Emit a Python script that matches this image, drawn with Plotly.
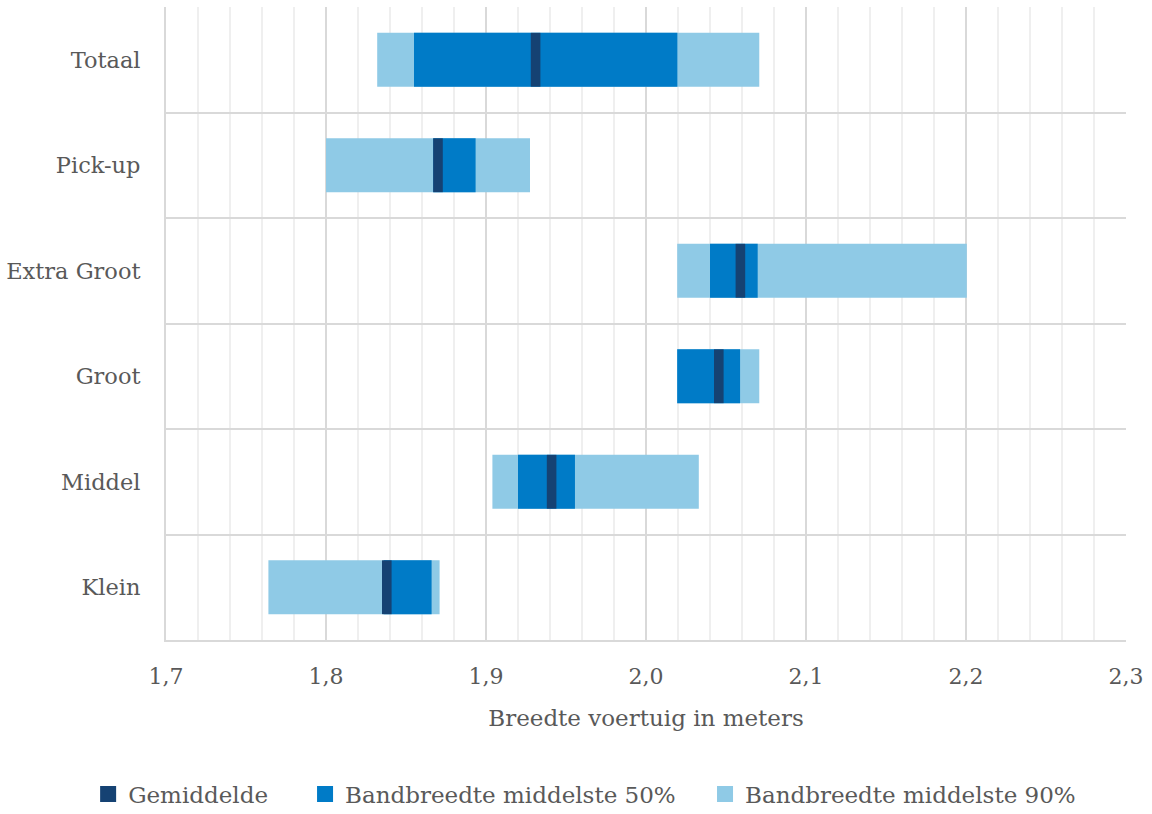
import plotly.graph_objects as go

categories = ["Klein", "Middel", "Groot", "Extra Groot", "Pick-up", "Totaal"]
p05 = [1.764, 1.904, 2.0195, 2.0195, 1.800, 1.832]
p95 = [1.871, 2.033, 2.0708, 2.2005, 1.9275, 2.0708]
p25 = [1.836, 1.920, 2.0195, 2.040, 1.867, 1.855]
p75 = [1.866, 1.9556, 2.0588, 2.0698, 1.8935, 2.0196]
mean = [1.838, 1.941, 2.0455, 2.059, 1.870, 1.931]

series_names = ["Gemiddelde", "Bandbreedte middelste 50%", "Bandbreedte middelste 90%"]

mean_mark = 0.006  # visual width of the mean marker

FONT = "DejaVu Serif"
TXT = "#595959"
C_LIGHT = "#8FCAE6"
C_MID = "#007BC7"
C_DARK = "#154273"

fig = go.Figure()
fig.add_trace(go.Bar(
    y=categories, x=[b - a for a, b in zip(p05, p95)], base=p05,
    orientation="h", marker=dict(color=C_LIGHT, line=dict(width=0)),
    width=0.51, name=series_names[2], showlegend=False,
))
fig.add_trace(go.Bar(
    y=categories, x=[b - a for a, b in zip(p25, p75)], base=p25,
    orientation="h", marker=dict(color=C_MID, line=dict(width=0)),
    width=0.51, name=series_names[1], showlegend=False,
))
fig.add_trace(go.Bar(
    y=categories, x=[mean_mark] * len(mean), base=[m - mean_mark / 2 for m in mean],
    orientation="h", marker=dict(color=C_DARK, line=dict(width=0)),
    width=0.51, name=series_names[0], showlegend=False,
))

# legend entries (one legend per entry so spacing can match)
legend_cols = [C_DARK, C_MID, C_LIGHT]
legend_ids = ["legend", "legend2", "legend3"]
for nm, col, lid in zip(series_names, legend_cols, legend_ids):
    fig.add_trace(go.Scatter(
        x=[None], y=[None], mode="markers", name=nm, legend=lid,
        marker=dict(symbol="square", size=17, color=col, line=dict(width=0)),
        showlegend=True, hoverinfo="skip",
    ))

leg_common = dict(
    orientation="h", yref="container", xref="container",
    yanchor="middle", y=0.0245, xanchor="left",
    font=dict(family=FONT, size=23, color=TXT), bgcolor="rgba(0,0,0,0)",
    itemwidth=30,
)

fig.update_layout(
    barmode="overlay",
    width=1152, height=814,
    margin=dict(l=166, r=26, t=7, b=174),
    paper_bgcolor="white", plot_bgcolor="white",
    separators=",.",
    font=dict(family=FONT, size=22, color=TXT),
    showlegend=True,
    legend=dict(x=0.0765, **leg_common),
    legend2=dict(x=0.2648, **leg_common),
    legend3=dict(x=0.6120, **leg_common),
    xaxis=dict(
        range=[1.7, 2.3], dtick=0.1, tick0=1.7, tickformat=".1f",
        showgrid=True, gridcolor="#D9D9D9", gridwidth=1.5,
        minor=dict(dtick=0.02, tick0=1.7, showgrid=True, gridcolor="#EFEFEF", gridwidth=1.5),
        showline=True, linecolor="#D9D9D9", linewidth=2,
        ticks="", ticklabelstandoff=16,
        zeroline=False, automargin=False,
        tickfont=dict(family=FONT, size=22, color=TXT),
        title=dict(text="Breedte voertuig in meters", standoff=21,
                   font=dict(family=FONT, size=23, color=TXT)),
    ),
    yaxis=dict(
        type="category", categoryorder="array", categoryarray=categories,
        range=[-0.5, 5.5],
        showgrid=True, gridcolor="#D9D9D9", gridwidth=1.5, tickson="boundaries",
        showline=True, linecolor="#D9D9D9", linewidth=2,
        ticks="", ticklabelstandoff=19, automargin=False,
        tickfont=dict(family=FONT, size=22.5, color=TXT),
    ),
)

fig.write_html("out.html", config={"displayModeBar": False},
               post_script="document.body.style.margin='0';")
